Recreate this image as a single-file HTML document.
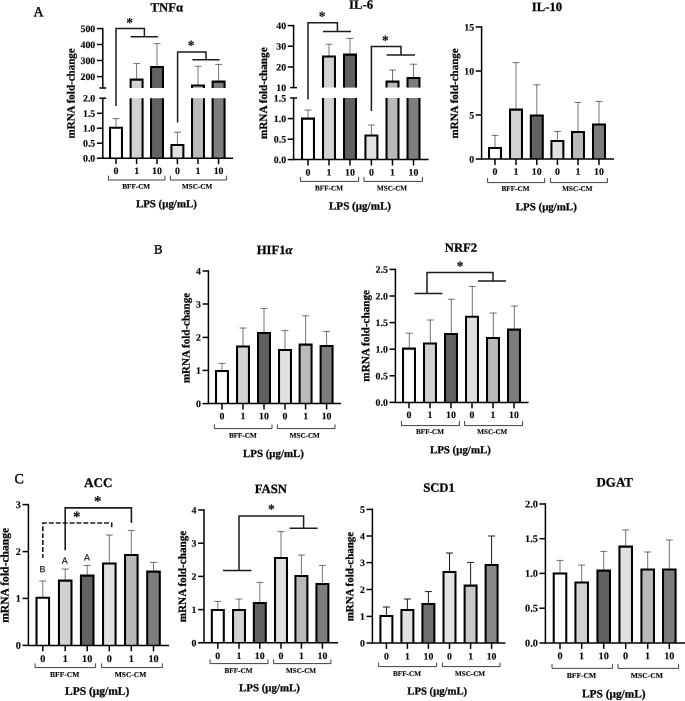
<!DOCTYPE html>
<html lang="en">
<head>
<meta charset="utf-8">
<title>mRNA fold-change charts</title>
<style>
html,body{margin:0;padding:0;background:#fff;}
body{width:685px;height:701px;overflow:hidden;}
svg text{white-space:pre;text-rendering:geometricPrecision;}
</style>
</head>
<body>
<svg width="685" height="701" viewBox="0 0 685 701" style="display:block">
<rect width="685" height="701" fill="#fff"/>
<g>
<line x1="116.00" y1="127.80" x2="116.00" y2="118.60" stroke="#000" stroke-width="0.55"/>
<line x1="112.50" y1="118.60" x2="119.50" y2="118.60" stroke="#000" stroke-width="0.55"/>
<line x1="136.60" y1="79.60" x2="136.60" y2="63.60" stroke="#000" stroke-width="0.55"/>
<line x1="133.10" y1="63.60" x2="140.10" y2="63.60" stroke="#000" stroke-width="0.55"/>
<line x1="157.00" y1="67.00" x2="157.00" y2="43.60" stroke="#000" stroke-width="0.55"/>
<line x1="153.50" y1="43.60" x2="160.50" y2="43.60" stroke="#000" stroke-width="0.55"/>
<line x1="177.40" y1="145.00" x2="177.40" y2="132.20" stroke="#000" stroke-width="0.55"/>
<line x1="173.90" y1="132.20" x2="180.90" y2="132.20" stroke="#000" stroke-width="0.55"/>
<line x1="198.00" y1="85.40" x2="198.00" y2="66.20" stroke="#000" stroke-width="0.55"/>
<line x1="194.50" y1="66.20" x2="201.50" y2="66.20" stroke="#000" stroke-width="0.55"/>
<line x1="218.60" y1="81.60" x2="218.60" y2="64.40" stroke="#000" stroke-width="0.55"/>
<line x1="215.10" y1="64.40" x2="222.10" y2="64.40" stroke="#000" stroke-width="0.55"/>
<rect x="110.03" y="127.83" width="11.95" height="30.37" fill="#ffffff"/>
<path d="M110.03 158.20V127.83H121.98V158.20" fill="none" stroke="#000" stroke-width="2.05" stroke-linejoin="miter"/>
<rect x="130.62" y="79.62" width="11.95" height="8.38" fill="#d2d2d2"/>
<rect x="130.62" y="98.20" width="11.95" height="60.00" fill="#d2d2d2"/>
<path d="M130.62 88.00V79.62H142.57V88.00" fill="none" stroke="#000" stroke-width="2.05"/>
<path d="M130.62 98.20V158.20M142.57 98.20V158.20" fill="none" stroke="#000" stroke-width="2.05"/>
<rect x="151.03" y="67.03" width="11.95" height="20.97" fill="#616161"/>
<rect x="151.03" y="98.20" width="11.95" height="60.00" fill="#616161"/>
<path d="M151.03 88.00V67.03H162.97V88.00" fill="none" stroke="#000" stroke-width="2.05"/>
<path d="M151.03 98.20V158.20M162.97 98.20V158.20" fill="none" stroke="#000" stroke-width="2.05"/>
<rect x="171.43" y="145.03" width="11.95" height="13.17" fill="#e0e0e0"/>
<path d="M171.43 158.20V145.03H183.38V158.20" fill="none" stroke="#000" stroke-width="2.05" stroke-linejoin="miter"/>
<rect x="192.03" y="85.43" width="11.95" height="2.57" fill="#b9b9b9"/>
<rect x="192.03" y="98.20" width="11.95" height="60.00" fill="#b9b9b9"/>
<path d="M192.03 88.00V85.43H203.97V88.00" fill="none" stroke="#000" stroke-width="2.05"/>
<path d="M192.03 98.20V158.20M203.97 98.20V158.20" fill="none" stroke="#000" stroke-width="2.05"/>
<rect x="212.62" y="81.62" width="11.95" height="6.38" fill="#7d7d7d"/>
<rect x="212.62" y="98.20" width="11.95" height="60.00" fill="#7d7d7d"/>
<path d="M212.62 88.00V81.62H224.57V88.00" fill="none" stroke="#000" stroke-width="2.05"/>
<path d="M212.62 98.20V158.20M224.57 98.20V158.20" fill="none" stroke="#000" stroke-width="2.05"/>
<line x1="102.05" y1="158.20" x2="233.00" y2="158.20" stroke="#000" stroke-width="1.5"/>
<line x1="102.80" y1="27.85" x2="102.80" y2="88.00" stroke="#000" stroke-width="1.5"/>
<line x1="102.80" y1="98.20" x2="102.80" y2="158.20" stroke="#000" stroke-width="1.5"/>
<line x1="99.40" y1="88.00" x2="106.20" y2="88.00" stroke="#000" stroke-width="1.5"/>
<line x1="99.40" y1="98.20" x2="106.20" y2="98.20" stroke="#000" stroke-width="1.5"/>
<line x1="96.90" y1="28.60" x2="102.80" y2="28.60" stroke="#000" stroke-width="1.5"/>
<text x="95.30" y="32.00" font-family='"Liberation Serif", serif' font-size="9.9" font-weight="bold" text-anchor="end" fill="#000" stroke="#000" stroke-width="0.12" transform="rotate(0.03 95.30 32.00)">500</text>
<line x1="96.90" y1="44.50" x2="102.80" y2="44.50" stroke="#000" stroke-width="1.5"/>
<text x="95.30" y="47.90" font-family='"Liberation Serif", serif' font-size="9.9" font-weight="bold" text-anchor="end" fill="#000" stroke="#000" stroke-width="0.12" transform="rotate(0.03 95.30 47.90)">400</text>
<line x1="96.90" y1="60.50" x2="102.80" y2="60.50" stroke="#000" stroke-width="1.5"/>
<text x="95.30" y="63.90" font-family='"Liberation Serif", serif' font-size="9.9" font-weight="bold" text-anchor="end" fill="#000" stroke="#000" stroke-width="0.12" transform="rotate(0.03 95.30 63.90)">300</text>
<line x1="96.90" y1="76.60" x2="102.80" y2="76.60" stroke="#000" stroke-width="1.5"/>
<text x="95.30" y="80.00" font-family='"Liberation Serif", serif' font-size="9.9" font-weight="bold" text-anchor="end" fill="#000" stroke="#000" stroke-width="0.12" transform="rotate(0.03 95.30 80.00)">200</text>
<text x="95.30" y="101.60" font-family='"Liberation Serif", serif' font-size="9.9" font-weight="bold" text-anchor="end" fill="#000" stroke="#000" stroke-width="0.12" transform="rotate(0.03 95.30 101.60)">2.0</text>
<line x1="96.90" y1="113.30" x2="102.80" y2="113.30" stroke="#000" stroke-width="1.5"/>
<text x="95.30" y="116.70" font-family='"Liberation Serif", serif' font-size="9.9" font-weight="bold" text-anchor="end" fill="#000" stroke="#000" stroke-width="0.12" transform="rotate(0.03 95.30 116.70)">1.5</text>
<line x1="96.90" y1="128.20" x2="102.80" y2="128.20" stroke="#000" stroke-width="1.5"/>
<text x="95.30" y="131.60" font-family='"Liberation Serif", serif' font-size="9.9" font-weight="bold" text-anchor="end" fill="#000" stroke="#000" stroke-width="0.12" transform="rotate(0.03 95.30 131.60)">1.0</text>
<line x1="96.90" y1="143.20" x2="102.80" y2="143.20" stroke="#000" stroke-width="1.5"/>
<text x="95.30" y="146.60" font-family='"Liberation Serif", serif' font-size="9.9" font-weight="bold" text-anchor="end" fill="#000" stroke="#000" stroke-width="0.12" transform="rotate(0.03 95.30 146.60)">0.5</text>
<line x1="96.90" y1="158.20" x2="102.80" y2="158.20" stroke="#000" stroke-width="1.5"/>
<text x="95.30" y="161.60" font-family='"Liberation Serif", serif' font-size="9.9" font-weight="bold" text-anchor="end" fill="#000" stroke="#000" stroke-width="0.12" transform="rotate(0.03 95.30 161.60)">0.0</text>
<line x1="116.00" y1="158.20" x2="116.00" y2="164.10" stroke="#000" stroke-width="1.5"/>
<text x="116.00" y="174.00" font-family='"Liberation Serif", serif' font-size="9.9" font-weight="bold" text-anchor="middle" fill="#000" stroke="#000" stroke-width="0.12" transform="rotate(0.03 116.00 174.00)">0</text>
<line x1="136.60" y1="158.20" x2="136.60" y2="164.10" stroke="#000" stroke-width="1.5"/>
<text x="136.60" y="174.00" font-family='"Liberation Serif", serif' font-size="9.9" font-weight="bold" text-anchor="middle" fill="#000" stroke="#000" stroke-width="0.12" transform="rotate(0.03 136.60 174.00)">1</text>
<line x1="157.00" y1="158.20" x2="157.00" y2="164.10" stroke="#000" stroke-width="1.5"/>
<text x="157.00" y="174.00" font-family='"Liberation Serif", serif' font-size="9.9" font-weight="bold" text-anchor="middle" fill="#000" stroke="#000" stroke-width="0.12" transform="rotate(0.03 157.00 174.00)">10</text>
<line x1="177.40" y1="158.20" x2="177.40" y2="164.10" stroke="#000" stroke-width="1.5"/>
<text x="177.40" y="174.00" font-family='"Liberation Serif", serif' font-size="9.9" font-weight="bold" text-anchor="middle" fill="#000" stroke="#000" stroke-width="0.12" transform="rotate(0.03 177.40 174.00)">0</text>
<line x1="198.00" y1="158.20" x2="198.00" y2="164.10" stroke="#000" stroke-width="1.5"/>
<text x="198.00" y="174.00" font-family='"Liberation Serif", serif' font-size="9.9" font-weight="bold" text-anchor="middle" fill="#000" stroke="#000" stroke-width="0.12" transform="rotate(0.03 198.00 174.00)">1</text>
<line x1="218.60" y1="158.20" x2="218.60" y2="164.10" stroke="#000" stroke-width="1.5"/>
<text x="218.60" y="174.00" font-family='"Liberation Serif", serif' font-size="9.9" font-weight="bold" text-anchor="middle" fill="#000" stroke="#000" stroke-width="0.12" transform="rotate(0.03 218.60 174.00)">10</text>
<path d="M108.40 175.60V180.00H165.00V175.60" fill="none" stroke="#000" stroke-width="0.75"/>
<text x="136.20" y="188.70" font-family='"Liberation Serif", serif' font-size="7.15" font-weight="bold" text-anchor="middle" fill="#000" stroke="#000" stroke-width="0.12" transform="rotate(0.03 136.20 188.70)">BFF-CM</text>
<path d="M170.40 175.60V180.00H226.60V175.60" fill="none" stroke="#000" stroke-width="0.75"/>
<text x="197.20" y="188.70" font-family='"Liberation Serif", serif' font-size="7.15" font-weight="bold" text-anchor="middle" fill="#000" stroke="#000" stroke-width="0.12" transform="rotate(0.03 197.20 188.70)">MSC-CM</text>
<text x="166.40" y="207.20" font-family='"Liberation Serif", serif' font-size="10.9" font-weight="bold" text-anchor="middle" fill="#000" stroke="#000" stroke-width="0.25" transform="rotate(0.03 166.40 207.20)">LPS (μg/mL)</text>
<text x="166.80" y="11.60" font-family='"Liberation Serif", serif' font-size="12.7" font-weight="bold" text-anchor="middle" fill="#000" stroke="#000" stroke-width="0.25" transform="rotate(0.03 166.80 11.60)">TNFα</text>
<text x="0.00" y="0.00" font-family='"Liberation Serif", serif' font-size="11.0" font-weight="bold" text-anchor="middle" fill="#000" stroke="#000" stroke-width="0.25" transform="translate(74.40 93.40) rotate(-89.97)">mRNA fold-change</text>
<path d="M116 106V28.6H144.4V36.8M130.6 36.8H158" fill="none" stroke="#1c1c1c" stroke-width="1.5"/>
<text x="129.60" y="26.95" font-family='"Liberation Serif", serif' font-size="13.5" font-weight="bold" text-anchor="middle" fill="#000" stroke="#000" stroke-width="0.1" transform="rotate(0.03 129.60 26.95)">*</text>
<path d="M177.6 122.6V52H206V59.8M192.4 59.8H219.6" fill="none" stroke="#1c1c1c" stroke-width="1.5"/>
<text x="191.00" y="49.85" font-family='"Liberation Serif", serif' font-size="13.5" font-weight="bold" text-anchor="middle" fill="#000" stroke="#000" stroke-width="0.1" transform="rotate(0.03 191.00 49.85)">*</text>
</g>
<g>
<line x1="308.00" y1="118.60" x2="308.00" y2="110.00" stroke="#000" stroke-width="0.55"/>
<line x1="304.50" y1="110.00" x2="311.50" y2="110.00" stroke="#000" stroke-width="0.55"/>
<line x1="329.00" y1="56.40" x2="329.00" y2="44.20" stroke="#000" stroke-width="0.55"/>
<line x1="325.50" y1="44.20" x2="332.50" y2="44.20" stroke="#000" stroke-width="0.55"/>
<line x1="350.00" y1="54.60" x2="350.00" y2="38.40" stroke="#000" stroke-width="0.55"/>
<line x1="346.50" y1="38.40" x2="353.50" y2="38.40" stroke="#000" stroke-width="0.55"/>
<line x1="371.40" y1="135.40" x2="371.40" y2="125.00" stroke="#000" stroke-width="0.55"/>
<line x1="367.90" y1="125.00" x2="374.90" y2="125.00" stroke="#000" stroke-width="0.55"/>
<line x1="392.50" y1="81.60" x2="392.50" y2="70.00" stroke="#000" stroke-width="0.55"/>
<line x1="389.00" y1="70.00" x2="396.00" y2="70.00" stroke="#000" stroke-width="0.55"/>
<line x1="413.50" y1="78.00" x2="413.50" y2="64.20" stroke="#000" stroke-width="0.55"/>
<line x1="410.00" y1="64.20" x2="417.00" y2="64.20" stroke="#000" stroke-width="0.55"/>
<rect x="302.02" y="118.62" width="11.95" height="40.97" fill="#ffffff"/>
<path d="M302.02 159.60V118.62H313.97V159.60" fill="none" stroke="#000" stroke-width="2.05" stroke-linejoin="miter"/>
<rect x="323.02" y="56.42" width="11.95" height="31.17" fill="#d2d2d2"/>
<rect x="323.02" y="98.00" width="11.95" height="61.60" fill="#d2d2d2"/>
<path d="M323.02 87.60V56.42H334.97V87.60" fill="none" stroke="#000" stroke-width="2.05"/>
<path d="M323.02 98.00V159.60M334.97 98.00V159.60" fill="none" stroke="#000" stroke-width="2.05"/>
<rect x="344.02" y="54.62" width="11.95" height="32.97" fill="#616161"/>
<rect x="344.02" y="98.00" width="11.95" height="61.60" fill="#616161"/>
<path d="M344.02 87.60V54.62H355.97V87.60" fill="none" stroke="#000" stroke-width="2.05"/>
<path d="M344.02 98.00V159.60M355.97 98.00V159.60" fill="none" stroke="#000" stroke-width="2.05"/>
<rect x="365.42" y="135.43" width="11.95" height="24.17" fill="#e0e0e0"/>
<path d="M365.42 159.60V135.43H377.37V159.60" fill="none" stroke="#000" stroke-width="2.05" stroke-linejoin="miter"/>
<rect x="386.52" y="81.62" width="11.95" height="5.97" fill="#b9b9b9"/>
<rect x="386.52" y="98.00" width="11.95" height="61.60" fill="#b9b9b9"/>
<path d="M386.52 87.60V81.62H398.47V87.60" fill="none" stroke="#000" stroke-width="2.05"/>
<path d="M386.52 98.00V159.60M398.47 98.00V159.60" fill="none" stroke="#000" stroke-width="2.05"/>
<rect x="407.52" y="78.03" width="11.95" height="9.57" fill="#7d7d7d"/>
<rect x="407.52" y="98.00" width="11.95" height="61.60" fill="#7d7d7d"/>
<path d="M407.52 87.60V78.03H419.47V87.60" fill="none" stroke="#000" stroke-width="2.05"/>
<path d="M407.52 98.00V159.60M419.47 98.00V159.60" fill="none" stroke="#000" stroke-width="2.05"/>
<line x1="292.85" y1="159.60" x2="428.60" y2="159.60" stroke="#000" stroke-width="1.5"/>
<line x1="293.60" y1="24.85" x2="293.60" y2="87.60" stroke="#000" stroke-width="1.5"/>
<line x1="293.60" y1="98.00" x2="293.60" y2="159.60" stroke="#000" stroke-width="1.5"/>
<line x1="290.20" y1="87.60" x2="297.00" y2="87.60" stroke="#000" stroke-width="1.5"/>
<line x1="290.20" y1="98.00" x2="297.00" y2="98.00" stroke="#000" stroke-width="1.5"/>
<line x1="287.70" y1="25.60" x2="293.60" y2="25.60" stroke="#000" stroke-width="1.5"/>
<text x="286.10" y="29.00" font-family='"Liberation Serif", serif' font-size="9.9" font-weight="bold" text-anchor="end" fill="#000" stroke="#000" stroke-width="0.12" transform="rotate(0.03 286.10 29.00)">40</text>
<line x1="287.70" y1="46.20" x2="293.60" y2="46.20" stroke="#000" stroke-width="1.5"/>
<text x="286.10" y="49.60" font-family='"Liberation Serif", serif' font-size="9.9" font-weight="bold" text-anchor="end" fill="#000" stroke="#000" stroke-width="0.12" transform="rotate(0.03 286.10 49.60)">30</text>
<line x1="287.70" y1="67.00" x2="293.60" y2="67.00" stroke="#000" stroke-width="1.5"/>
<text x="286.10" y="70.40" font-family='"Liberation Serif", serif' font-size="9.9" font-weight="bold" text-anchor="end" fill="#000" stroke="#000" stroke-width="0.12" transform="rotate(0.03 286.10 70.40)">20</text>
<text x="286.10" y="91.00" font-family='"Liberation Serif", serif' font-size="9.9" font-weight="bold" text-anchor="end" fill="#000" stroke="#000" stroke-width="0.12" transform="rotate(0.03 286.10 91.00)">10</text>
<text x="286.10" y="101.40" font-family='"Liberation Serif", serif' font-size="9.9" font-weight="bold" text-anchor="end" fill="#000" stroke="#000" stroke-width="0.12" transform="rotate(0.03 286.10 101.40)">1.5</text>
<line x1="287.70" y1="118.60" x2="293.60" y2="118.60" stroke="#000" stroke-width="1.5"/>
<text x="286.10" y="122.00" font-family='"Liberation Serif", serif' font-size="9.9" font-weight="bold" text-anchor="end" fill="#000" stroke="#000" stroke-width="0.12" transform="rotate(0.03 286.10 122.00)">1.0</text>
<line x1="287.70" y1="139.20" x2="293.60" y2="139.20" stroke="#000" stroke-width="1.5"/>
<text x="286.10" y="142.60" font-family='"Liberation Serif", serif' font-size="9.9" font-weight="bold" text-anchor="end" fill="#000" stroke="#000" stroke-width="0.12" transform="rotate(0.03 286.10 142.60)">0.5</text>
<line x1="287.70" y1="159.60" x2="293.60" y2="159.60" stroke="#000" stroke-width="1.5"/>
<text x="286.10" y="163.00" font-family='"Liberation Serif", serif' font-size="9.9" font-weight="bold" text-anchor="end" fill="#000" stroke="#000" stroke-width="0.12" transform="rotate(0.03 286.10 163.00)">0.0</text>
<line x1="308.00" y1="159.60" x2="308.00" y2="165.50" stroke="#000" stroke-width="1.5"/>
<text x="308.00" y="175.60" font-family='"Liberation Serif", serif' font-size="9.9" font-weight="bold" text-anchor="middle" fill="#000" stroke="#000" stroke-width="0.12" transform="rotate(0.03 308.00 175.60)">0</text>
<line x1="329.00" y1="159.60" x2="329.00" y2="165.50" stroke="#000" stroke-width="1.5"/>
<text x="329.00" y="175.60" font-family='"Liberation Serif", serif' font-size="9.9" font-weight="bold" text-anchor="middle" fill="#000" stroke="#000" stroke-width="0.12" transform="rotate(0.03 329.00 175.60)">1</text>
<line x1="350.00" y1="159.60" x2="350.00" y2="165.50" stroke="#000" stroke-width="1.5"/>
<text x="350.00" y="175.60" font-family='"Liberation Serif", serif' font-size="9.9" font-weight="bold" text-anchor="middle" fill="#000" stroke="#000" stroke-width="0.12" transform="rotate(0.03 350.00 175.60)">10</text>
<line x1="371.40" y1="159.60" x2="371.40" y2="165.50" stroke="#000" stroke-width="1.5"/>
<text x="371.40" y="175.60" font-family='"Liberation Serif", serif' font-size="9.9" font-weight="bold" text-anchor="middle" fill="#000" stroke="#000" stroke-width="0.12" transform="rotate(0.03 371.40 175.60)">0</text>
<line x1="392.50" y1="159.60" x2="392.50" y2="165.50" stroke="#000" stroke-width="1.5"/>
<text x="392.50" y="175.60" font-family='"Liberation Serif", serif' font-size="9.9" font-weight="bold" text-anchor="middle" fill="#000" stroke="#000" stroke-width="0.12" transform="rotate(0.03 392.50 175.60)">1</text>
<line x1="413.50" y1="159.60" x2="413.50" y2="165.50" stroke="#000" stroke-width="1.5"/>
<text x="413.50" y="175.60" font-family='"Liberation Serif", serif' font-size="9.9" font-weight="bold" text-anchor="middle" fill="#000" stroke="#000" stroke-width="0.12" transform="rotate(0.03 413.50 175.60)">10</text>
<path d="M300.40 177.00V181.40H358.60V177.00" fill="none" stroke="#000" stroke-width="0.75"/>
<text x="329.00" y="190.40" font-family='"Liberation Serif", serif' font-size="7.15" font-weight="bold" text-anchor="middle" fill="#000" stroke="#000" stroke-width="0.12" transform="rotate(0.03 329.00 190.40)">BFF-CM</text>
<path d="M364.00 177.00V181.40H422.40V177.00" fill="none" stroke="#000" stroke-width="0.75"/>
<text x="392.00" y="190.40" font-family='"Liberation Serif", serif' font-size="7.15" font-weight="bold" text-anchor="middle" fill="#000" stroke="#000" stroke-width="0.12" transform="rotate(0.03 392.00 190.40)">MSC-CM</text>
<text x="360.00" y="209.60" font-family='"Liberation Serif", serif' font-size="11.1" font-weight="bold" text-anchor="middle" fill="#000" stroke="#000" stroke-width="0.25" transform="rotate(0.03 360.00 209.60)">LPS (μg/mL)</text>
<text x="361.00" y="8.70" font-family='"Liberation Serif", serif' font-size="12.7" font-weight="bold" text-anchor="middle" fill="#000" stroke="#000" stroke-width="0.25" transform="rotate(0.03 361.00 8.70)">IL-6</text>
<text x="0.00" y="0.00" font-family='"Liberation Serif", serif' font-size="11.2" font-weight="bold" text-anchor="middle" fill="#000" stroke="#000" stroke-width="0.25" transform="translate(267.10 93.20) rotate(-89.97)">mRNA fold-change</text>
<path d="M308 99.6V22.8H337.4V31.4M323 31.4H351" fill="none" stroke="#1c1c1c" stroke-width="1.5"/>
<text x="322.00" y="20.85" font-family='"Liberation Serif", serif' font-size="13.5" font-weight="bold" text-anchor="middle" fill="#000" stroke="#000" stroke-width="0.1" transform="rotate(0.03 322.00 20.85)">*</text>
<path d="M371.4 111V46.6H401V55M386.6 55H415" fill="none" stroke="#1c1c1c" stroke-width="1.5"/>
<text x="385.40" y="44.85" font-family='"Liberation Serif", serif' font-size="13.5" font-weight="bold" text-anchor="middle" fill="#000" stroke="#000" stroke-width="0.1" transform="rotate(0.03 385.40 44.85)">*</text>
</g>
<g>
<line x1="495.00" y1="148.00" x2="495.00" y2="135.40" stroke="#000" stroke-width="0.55"/>
<line x1="491.50" y1="135.40" x2="498.50" y2="135.40" stroke="#000" stroke-width="0.55"/>
<line x1="516.00" y1="109.60" x2="516.00" y2="62.60" stroke="#000" stroke-width="0.55"/>
<line x1="512.50" y1="62.60" x2="519.50" y2="62.60" stroke="#000" stroke-width="0.55"/>
<line x1="536.80" y1="115.40" x2="536.80" y2="84.80" stroke="#000" stroke-width="0.55"/>
<line x1="533.30" y1="84.80" x2="540.30" y2="84.80" stroke="#000" stroke-width="0.55"/>
<line x1="557.40" y1="141.00" x2="557.40" y2="131.40" stroke="#000" stroke-width="0.55"/>
<line x1="553.90" y1="131.40" x2="560.90" y2="131.40" stroke="#000" stroke-width="0.55"/>
<line x1="578.00" y1="132.00" x2="578.00" y2="102.40" stroke="#000" stroke-width="0.55"/>
<line x1="574.50" y1="102.40" x2="581.50" y2="102.40" stroke="#000" stroke-width="0.55"/>
<line x1="599.00" y1="124.40" x2="599.00" y2="101.40" stroke="#000" stroke-width="0.55"/>
<line x1="595.50" y1="101.40" x2="602.50" y2="101.40" stroke="#000" stroke-width="0.55"/>
<rect x="489.02" y="148.03" width="11.95" height="10.97" fill="#ffffff"/>
<path d="M489.02 159.00V148.03H500.97V159.00" fill="none" stroke="#000" stroke-width="2.05" stroke-linejoin="miter"/>
<rect x="510.02" y="109.62" width="11.95" height="49.38" fill="#d2d2d2"/>
<path d="M510.02 159.00V109.62H521.98V159.00" fill="none" stroke="#000" stroke-width="2.05" stroke-linejoin="miter"/>
<rect x="530.82" y="115.43" width="11.95" height="43.57" fill="#616161"/>
<path d="M530.82 159.00V115.43H542.77V159.00" fill="none" stroke="#000" stroke-width="2.05" stroke-linejoin="miter"/>
<rect x="551.42" y="141.03" width="11.95" height="17.97" fill="#e0e0e0"/>
<path d="M551.42 159.00V141.03H563.38V159.00" fill="none" stroke="#000" stroke-width="2.05" stroke-linejoin="miter"/>
<rect x="572.02" y="132.03" width="11.95" height="26.97" fill="#b9b9b9"/>
<path d="M572.02 159.00V132.03H583.98V159.00" fill="none" stroke="#000" stroke-width="2.05" stroke-linejoin="miter"/>
<rect x="593.02" y="124.43" width="11.95" height="34.57" fill="#7d7d7d"/>
<path d="M593.02 159.00V124.43H604.98V159.00" fill="none" stroke="#000" stroke-width="2.05" stroke-linejoin="miter"/>
<line x1="480.85" y1="159.00" x2="614.00" y2="159.00" stroke="#000" stroke-width="1.5"/>
<line x1="481.60" y1="26.25" x2="481.60" y2="159.00" stroke="#000" stroke-width="1.5"/>
<line x1="475.70" y1="27.00" x2="481.60" y2="27.00" stroke="#000" stroke-width="1.5"/>
<text x="474.10" y="30.40" font-family='"Liberation Serif", serif' font-size="9.9" font-weight="bold" text-anchor="end" fill="#000" stroke="#000" stroke-width="0.12" transform="rotate(0.03 474.10 30.40)">15</text>
<line x1="475.70" y1="71.00" x2="481.60" y2="71.00" stroke="#000" stroke-width="1.5"/>
<text x="474.10" y="74.40" font-family='"Liberation Serif", serif' font-size="9.9" font-weight="bold" text-anchor="end" fill="#000" stroke="#000" stroke-width="0.12" transform="rotate(0.03 474.10 74.40)">10</text>
<line x1="475.70" y1="115.00" x2="481.60" y2="115.00" stroke="#000" stroke-width="1.5"/>
<text x="474.10" y="118.40" font-family='"Liberation Serif", serif' font-size="9.9" font-weight="bold" text-anchor="end" fill="#000" stroke="#000" stroke-width="0.12" transform="rotate(0.03 474.10 118.40)">5</text>
<line x1="475.70" y1="159.00" x2="481.60" y2="159.00" stroke="#000" stroke-width="1.5"/>
<text x="474.10" y="162.40" font-family='"Liberation Serif", serif' font-size="9.9" font-weight="bold" text-anchor="end" fill="#000" stroke="#000" stroke-width="0.12" transform="rotate(0.03 474.10 162.40)">0</text>
<line x1="495.00" y1="159.00" x2="495.00" y2="164.90" stroke="#000" stroke-width="1.5"/>
<text x="495.00" y="174.80" font-family='"Liberation Serif", serif' font-size="9.9" font-weight="bold" text-anchor="middle" fill="#000" stroke="#000" stroke-width="0.12" transform="rotate(0.03 495.00 174.80)">0</text>
<line x1="516.00" y1="159.00" x2="516.00" y2="164.90" stroke="#000" stroke-width="1.5"/>
<text x="516.00" y="174.80" font-family='"Liberation Serif", serif' font-size="9.9" font-weight="bold" text-anchor="middle" fill="#000" stroke="#000" stroke-width="0.12" transform="rotate(0.03 516.00 174.80)">1</text>
<line x1="536.80" y1="159.00" x2="536.80" y2="164.90" stroke="#000" stroke-width="1.5"/>
<text x="536.80" y="174.80" font-family='"Liberation Serif", serif' font-size="9.9" font-weight="bold" text-anchor="middle" fill="#000" stroke="#000" stroke-width="0.12" transform="rotate(0.03 536.80 174.80)">10</text>
<line x1="557.40" y1="159.00" x2="557.40" y2="164.90" stroke="#000" stroke-width="1.5"/>
<text x="557.40" y="174.80" font-family='"Liberation Serif", serif' font-size="9.9" font-weight="bold" text-anchor="middle" fill="#000" stroke="#000" stroke-width="0.12" transform="rotate(0.03 557.40 174.80)">0</text>
<line x1="578.00" y1="159.00" x2="578.00" y2="164.90" stroke="#000" stroke-width="1.5"/>
<text x="578.00" y="174.80" font-family='"Liberation Serif", serif' font-size="9.9" font-weight="bold" text-anchor="middle" fill="#000" stroke="#000" stroke-width="0.12" transform="rotate(0.03 578.00 174.80)">1</text>
<line x1="599.00" y1="159.00" x2="599.00" y2="164.90" stroke="#000" stroke-width="1.5"/>
<text x="599.00" y="174.80" font-family='"Liberation Serif", serif' font-size="9.9" font-weight="bold" text-anchor="middle" fill="#000" stroke="#000" stroke-width="0.12" transform="rotate(0.03 599.00 174.80)">10</text>
<path d="M487.60 178.00V182.60H544.60V178.00" fill="none" stroke="#000" stroke-width="0.75"/>
<text x="515.50" y="191.00" font-family='"Liberation Serif", serif' font-size="7.15" font-weight="bold" text-anchor="middle" fill="#000" stroke="#000" stroke-width="0.12" transform="rotate(0.03 515.50 191.00)">BFF-CM</text>
<path d="M550.40 178.00V182.60H607.40V178.00" fill="none" stroke="#000" stroke-width="0.75"/>
<text x="577.40" y="191.00" font-family='"Liberation Serif", serif' font-size="7.15" font-weight="bold" text-anchor="middle" fill="#000" stroke="#000" stroke-width="0.12" transform="rotate(0.03 577.40 191.00)">MSC-CM</text>
<text x="546.30" y="210.20" font-family='"Liberation Serif", serif' font-size="10.9" font-weight="bold" text-anchor="middle" fill="#000" stroke="#000" stroke-width="0.25" transform="rotate(0.03 546.30 210.20)">LPS (μg/mL)</text>
<text x="547.00" y="11.00" font-family='"Liberation Serif", serif' font-size="12.7" font-weight="bold" text-anchor="middle" fill="#000" stroke="#000" stroke-width="0.25" transform="rotate(0.03 547.00 11.00)">IL-10</text>
<text x="0.00" y="0.00" font-family='"Liberation Serif", serif' font-size="11.0" font-weight="bold" text-anchor="middle" fill="#000" stroke="#000" stroke-width="0.25" transform="translate(458.10 93.40) rotate(-89.97)">mRNA fold-change</text>
</g>
<g>
<line x1="222.00" y1="371.00" x2="222.00" y2="363.40" stroke="#000" stroke-width="0.55"/>
<line x1="218.50" y1="363.40" x2="225.50" y2="363.40" stroke="#000" stroke-width="0.55"/>
<line x1="243.00" y1="346.40" x2="243.00" y2="328.00" stroke="#000" stroke-width="0.55"/>
<line x1="239.50" y1="328.00" x2="246.50" y2="328.00" stroke="#000" stroke-width="0.55"/>
<line x1="264.00" y1="333.00" x2="264.00" y2="308.40" stroke="#000" stroke-width="0.55"/>
<line x1="260.50" y1="308.40" x2="267.50" y2="308.40" stroke="#000" stroke-width="0.55"/>
<line x1="285.00" y1="350.00" x2="285.00" y2="330.60" stroke="#000" stroke-width="0.55"/>
<line x1="281.50" y1="330.60" x2="288.50" y2="330.60" stroke="#000" stroke-width="0.55"/>
<line x1="305.60" y1="344.60" x2="305.60" y2="315.80" stroke="#000" stroke-width="0.55"/>
<line x1="302.10" y1="315.80" x2="309.10" y2="315.80" stroke="#000" stroke-width="0.55"/>
<line x1="326.60" y1="346.00" x2="326.60" y2="331.40" stroke="#000" stroke-width="0.55"/>
<line x1="323.10" y1="331.40" x2="330.10" y2="331.40" stroke="#000" stroke-width="0.55"/>
<rect x="216.03" y="371.02" width="11.95" height="32.58" fill="#ffffff"/>
<path d="M216.03 403.60V371.02H227.97V403.60" fill="none" stroke="#000" stroke-width="2.05" stroke-linejoin="miter"/>
<rect x="237.03" y="346.42" width="11.95" height="57.18" fill="#d2d2d2"/>
<path d="M237.03 403.60V346.42H248.97V403.60" fill="none" stroke="#000" stroke-width="2.05" stroke-linejoin="miter"/>
<rect x="258.02" y="333.02" width="11.95" height="70.58" fill="#616161"/>
<path d="M258.02 403.60V333.02H269.97V403.60" fill="none" stroke="#000" stroke-width="2.05" stroke-linejoin="miter"/>
<rect x="279.02" y="350.02" width="11.95" height="53.58" fill="#e0e0e0"/>
<path d="M279.02 403.60V350.02H290.97V403.60" fill="none" stroke="#000" stroke-width="2.05" stroke-linejoin="miter"/>
<rect x="299.62" y="344.62" width="11.95" height="58.98" fill="#b9b9b9"/>
<path d="M299.62 403.60V344.62H311.57V403.60" fill="none" stroke="#000" stroke-width="2.05" stroke-linejoin="miter"/>
<rect x="320.62" y="346.02" width="11.95" height="57.58" fill="#7d7d7d"/>
<path d="M320.62 403.60V346.02H332.57V403.60" fill="none" stroke="#000" stroke-width="2.05" stroke-linejoin="miter"/>
<line x1="207.65" y1="403.60" x2="341.00" y2="403.60" stroke="#000" stroke-width="1.5"/>
<line x1="208.40" y1="270.25" x2="208.40" y2="403.60" stroke="#000" stroke-width="1.5"/>
<line x1="202.50" y1="271.00" x2="208.40" y2="271.00" stroke="#000" stroke-width="1.5"/>
<text x="200.90" y="274.40" font-family='"Liberation Serif", serif' font-size="9.9" font-weight="bold" text-anchor="end" fill="#000" stroke="#000" stroke-width="0.12" transform="rotate(0.03 200.90 274.40)">4</text>
<line x1="202.50" y1="304.00" x2="208.40" y2="304.00" stroke="#000" stroke-width="1.5"/>
<text x="200.90" y="307.40" font-family='"Liberation Serif", serif' font-size="9.9" font-weight="bold" text-anchor="end" fill="#000" stroke="#000" stroke-width="0.12" transform="rotate(0.03 200.90 307.40)">3</text>
<line x1="202.50" y1="337.40" x2="208.40" y2="337.40" stroke="#000" stroke-width="1.5"/>
<text x="200.90" y="340.80" font-family='"Liberation Serif", serif' font-size="9.9" font-weight="bold" text-anchor="end" fill="#000" stroke="#000" stroke-width="0.12" transform="rotate(0.03 200.90 340.80)">2</text>
<line x1="202.50" y1="370.40" x2="208.40" y2="370.40" stroke="#000" stroke-width="1.5"/>
<text x="200.90" y="373.80" font-family='"Liberation Serif", serif' font-size="9.9" font-weight="bold" text-anchor="end" fill="#000" stroke="#000" stroke-width="0.12" transform="rotate(0.03 200.90 373.80)">1</text>
<line x1="202.50" y1="403.60" x2="208.40" y2="403.60" stroke="#000" stroke-width="1.5"/>
<text x="200.90" y="407.00" font-family='"Liberation Serif", serif' font-size="9.9" font-weight="bold" text-anchor="end" fill="#000" stroke="#000" stroke-width="0.12" transform="rotate(0.03 200.90 407.00)">0</text>
<line x1="222.00" y1="403.60" x2="222.00" y2="409.50" stroke="#000" stroke-width="1.5"/>
<text x="222.00" y="419.30" font-family='"Liberation Serif", serif' font-size="9.9" font-weight="bold" text-anchor="middle" fill="#000" stroke="#000" stroke-width="0.12" transform="rotate(0.03 222.00 419.30)">0</text>
<line x1="243.00" y1="403.60" x2="243.00" y2="409.50" stroke="#000" stroke-width="1.5"/>
<text x="243.00" y="419.30" font-family='"Liberation Serif", serif' font-size="9.9" font-weight="bold" text-anchor="middle" fill="#000" stroke="#000" stroke-width="0.12" transform="rotate(0.03 243.00 419.30)">1</text>
<line x1="264.00" y1="403.60" x2="264.00" y2="409.50" stroke="#000" stroke-width="1.5"/>
<text x="264.00" y="419.30" font-family='"Liberation Serif", serif' font-size="9.9" font-weight="bold" text-anchor="middle" fill="#000" stroke="#000" stroke-width="0.12" transform="rotate(0.03 264.00 419.30)">10</text>
<line x1="285.00" y1="403.60" x2="285.00" y2="409.50" stroke="#000" stroke-width="1.5"/>
<text x="285.00" y="419.30" font-family='"Liberation Serif", serif' font-size="9.9" font-weight="bold" text-anchor="middle" fill="#000" stroke="#000" stroke-width="0.12" transform="rotate(0.03 285.00 419.30)">0</text>
<line x1="305.60" y1="403.60" x2="305.60" y2="409.50" stroke="#000" stroke-width="1.5"/>
<text x="305.60" y="419.30" font-family='"Liberation Serif", serif' font-size="9.9" font-weight="bold" text-anchor="middle" fill="#000" stroke="#000" stroke-width="0.12" transform="rotate(0.03 305.60 419.30)">1</text>
<line x1="326.60" y1="403.60" x2="326.60" y2="409.50" stroke="#000" stroke-width="1.5"/>
<text x="326.60" y="419.30" font-family='"Liberation Serif", serif' font-size="9.9" font-weight="bold" text-anchor="middle" fill="#000" stroke="#000" stroke-width="0.12" transform="rotate(0.03 326.60 419.30)">10</text>
<path d="M214.40 424.40V428.60H272.00V424.40" fill="none" stroke="#000" stroke-width="0.75"/>
<text x="242.80" y="437.70" font-family='"Liberation Serif", serif' font-size="7.15" font-weight="bold" text-anchor="middle" fill="#000" stroke="#000" stroke-width="0.12" transform="rotate(0.03 242.80 437.70)">BFF-CM</text>
<path d="M277.40 424.40V428.60H335.00V424.40" fill="none" stroke="#000" stroke-width="0.75"/>
<text x="304.80" y="437.70" font-family='"Liberation Serif", serif' font-size="7.15" font-weight="bold" text-anchor="middle" fill="#000" stroke="#000" stroke-width="0.12" transform="rotate(0.03 304.80 437.70)">MSC-CM</text>
<text x="273.50" y="457.00" font-family='"Liberation Serif", serif' font-size="10.9" font-weight="bold" text-anchor="middle" fill="#000" stroke="#000" stroke-width="0.25" transform="rotate(0.03 273.50 457.00)">LPS (μg/mL)</text>
<text x="274.60" y="253.90" font-family='"Liberation Serif", serif' font-size="12.7" font-weight="bold" text-anchor="middle" fill="#000" stroke="#000" stroke-width="0.25" transform="rotate(0.03 274.60 253.90)">HIF1<tspan font-style="italic">α</tspan></text>
<text x="0.00" y="0.00" font-family='"Liberation Serif", serif' font-size="11.0" font-weight="bold" text-anchor="middle" fill="#000" stroke="#000" stroke-width="0.25" transform="translate(189.60 338.00) rotate(-89.97)">mRNA fold-change</text>
</g>
<g>
<line x1="409.30" y1="348.60" x2="409.30" y2="333.20" stroke="#000" stroke-width="0.55"/>
<line x1="405.80" y1="333.20" x2="412.80" y2="333.20" stroke="#000" stroke-width="0.55"/>
<line x1="430.30" y1="343.40" x2="430.30" y2="320.00" stroke="#000" stroke-width="0.55"/>
<line x1="426.80" y1="320.00" x2="433.80" y2="320.00" stroke="#000" stroke-width="0.55"/>
<line x1="451.30" y1="334.00" x2="451.30" y2="299.20" stroke="#000" stroke-width="0.55"/>
<line x1="447.80" y1="299.20" x2="454.80" y2="299.20" stroke="#000" stroke-width="0.55"/>
<line x1="472.30" y1="316.80" x2="472.30" y2="286.40" stroke="#000" stroke-width="0.55"/>
<line x1="468.80" y1="286.40" x2="475.80" y2="286.40" stroke="#000" stroke-width="0.55"/>
<line x1="493.30" y1="338.00" x2="493.30" y2="313.00" stroke="#000" stroke-width="0.55"/>
<line x1="489.80" y1="313.00" x2="496.80" y2="313.00" stroke="#000" stroke-width="0.55"/>
<line x1="514.30" y1="329.60" x2="514.30" y2="306.00" stroke="#000" stroke-width="0.55"/>
<line x1="510.80" y1="306.00" x2="517.80" y2="306.00" stroke="#000" stroke-width="0.55"/>
<rect x="403.02" y="348.62" width="11.95" height="53.77" fill="#ffffff"/>
<path d="M403.02 402.40V348.62H414.97V402.40" fill="none" stroke="#000" stroke-width="2.05" stroke-linejoin="miter"/>
<rect x="424.02" y="343.42" width="11.95" height="58.98" fill="#d2d2d2"/>
<path d="M424.02 402.40V343.42H435.97V402.40" fill="none" stroke="#000" stroke-width="2.05" stroke-linejoin="miter"/>
<rect x="445.02" y="334.02" width="11.95" height="68.38" fill="#616161"/>
<path d="M445.02 402.40V334.02H456.97V402.40" fill="none" stroke="#000" stroke-width="2.05" stroke-linejoin="miter"/>
<rect x="466.02" y="316.82" width="11.95" height="85.57" fill="#e0e0e0"/>
<path d="M466.02 402.40V316.82H477.97V402.40" fill="none" stroke="#000" stroke-width="2.05" stroke-linejoin="miter"/>
<rect x="487.02" y="338.02" width="11.95" height="64.38" fill="#b9b9b9"/>
<path d="M487.02 402.40V338.02H498.97V402.40" fill="none" stroke="#000" stroke-width="2.05" stroke-linejoin="miter"/>
<rect x="508.02" y="329.62" width="11.95" height="72.77" fill="#7d7d7d"/>
<path d="M508.02 402.40V329.62H519.98V402.40" fill="none" stroke="#000" stroke-width="2.05" stroke-linejoin="miter"/>
<line x1="394.65" y1="402.40" x2="528.60" y2="402.40" stroke="#000" stroke-width="1.5"/>
<line x1="395.40" y1="268.65" x2="395.40" y2="402.40" stroke="#000" stroke-width="1.5"/>
<line x1="389.50" y1="269.40" x2="395.40" y2="269.40" stroke="#000" stroke-width="1.5"/>
<text x="387.90" y="272.80" font-family='"Liberation Serif", serif' font-size="9.9" font-weight="bold" text-anchor="end" fill="#000" stroke="#000" stroke-width="0.12" transform="rotate(0.03 387.90 272.80)">2.5</text>
<line x1="389.50" y1="296.00" x2="395.40" y2="296.00" stroke="#000" stroke-width="1.5"/>
<text x="387.90" y="299.40" font-family='"Liberation Serif", serif' font-size="9.9" font-weight="bold" text-anchor="end" fill="#000" stroke="#000" stroke-width="0.12" transform="rotate(0.03 387.90 299.40)">2.0</text>
<line x1="389.50" y1="322.60" x2="395.40" y2="322.60" stroke="#000" stroke-width="1.5"/>
<text x="387.90" y="326.00" font-family='"Liberation Serif", serif' font-size="9.9" font-weight="bold" text-anchor="end" fill="#000" stroke="#000" stroke-width="0.12" transform="rotate(0.03 387.90 326.00)">1.5</text>
<line x1="389.50" y1="349.20" x2="395.40" y2="349.20" stroke="#000" stroke-width="1.5"/>
<text x="387.90" y="352.60" font-family='"Liberation Serif", serif' font-size="9.9" font-weight="bold" text-anchor="end" fill="#000" stroke="#000" stroke-width="0.12" transform="rotate(0.03 387.90 352.60)">1.0</text>
<line x1="389.50" y1="375.80" x2="395.40" y2="375.80" stroke="#000" stroke-width="1.5"/>
<text x="387.90" y="379.20" font-family='"Liberation Serif", serif' font-size="9.9" font-weight="bold" text-anchor="end" fill="#000" stroke="#000" stroke-width="0.12" transform="rotate(0.03 387.90 379.20)">0.5</text>
<line x1="389.50" y1="402.40" x2="395.40" y2="402.40" stroke="#000" stroke-width="1.5"/>
<text x="387.90" y="405.80" font-family='"Liberation Serif", serif' font-size="9.9" font-weight="bold" text-anchor="end" fill="#000" stroke="#000" stroke-width="0.12" transform="rotate(0.03 387.90 405.80)">0.0</text>
<line x1="409.00" y1="402.40" x2="409.00" y2="408.30" stroke="#000" stroke-width="1.5"/>
<text x="409.00" y="418.10" font-family='"Liberation Serif", serif' font-size="9.9" font-weight="bold" text-anchor="middle" fill="#000" stroke="#000" stroke-width="0.12" transform="rotate(0.03 409.00 418.10)">0</text>
<line x1="430.00" y1="402.40" x2="430.00" y2="408.30" stroke="#000" stroke-width="1.5"/>
<text x="430.00" y="418.10" font-family='"Liberation Serif", serif' font-size="9.9" font-weight="bold" text-anchor="middle" fill="#000" stroke="#000" stroke-width="0.12" transform="rotate(0.03 430.00 418.10)">1</text>
<line x1="451.00" y1="402.40" x2="451.00" y2="408.30" stroke="#000" stroke-width="1.5"/>
<text x="451.00" y="418.10" font-family='"Liberation Serif", serif' font-size="9.9" font-weight="bold" text-anchor="middle" fill="#000" stroke="#000" stroke-width="0.12" transform="rotate(0.03 451.00 418.10)">10</text>
<line x1="472.00" y1="402.40" x2="472.00" y2="408.30" stroke="#000" stroke-width="1.5"/>
<text x="472.00" y="418.10" font-family='"Liberation Serif", serif' font-size="9.9" font-weight="bold" text-anchor="middle" fill="#000" stroke="#000" stroke-width="0.12" transform="rotate(0.03 472.00 418.10)">0</text>
<line x1="493.00" y1="402.40" x2="493.00" y2="408.30" stroke="#000" stroke-width="1.5"/>
<text x="493.00" y="418.10" font-family='"Liberation Serif", serif' font-size="9.9" font-weight="bold" text-anchor="middle" fill="#000" stroke="#000" stroke-width="0.12" transform="rotate(0.03 493.00 418.10)">1</text>
<line x1="514.00" y1="402.40" x2="514.00" y2="408.30" stroke="#000" stroke-width="1.5"/>
<text x="514.00" y="418.10" font-family='"Liberation Serif", serif' font-size="9.9" font-weight="bold" text-anchor="middle" fill="#000" stroke="#000" stroke-width="0.12" transform="rotate(0.03 514.00 418.10)">10</text>
<path d="M401.40 421.00V425.60H459.40V421.00" fill="none" stroke="#000" stroke-width="0.75"/>
<text x="430.00" y="433.90" font-family='"Liberation Serif", serif' font-size="7.15" font-weight="bold" text-anchor="middle" fill="#000" stroke="#000" stroke-width="0.12" transform="rotate(0.03 430.00 433.90)">BFF-CM</text>
<path d="M464.60 421.00V425.60H522.60V421.00" fill="none" stroke="#000" stroke-width="0.75"/>
<text x="492.30" y="433.90" font-family='"Liberation Serif", serif' font-size="7.15" font-weight="bold" text-anchor="middle" fill="#000" stroke="#000" stroke-width="0.12" transform="rotate(0.03 492.30 433.90)">MSC-CM</text>
<text x="460.40" y="453.20" font-family='"Liberation Serif", serif' font-size="10.9" font-weight="bold" text-anchor="middle" fill="#000" stroke="#000" stroke-width="0.25" transform="rotate(0.03 460.40 453.20)">LPS (μg/mL)</text>
<text x="461.00" y="251.80" font-family='"Liberation Serif", serif' font-size="12.7" font-weight="bold" text-anchor="middle" fill="#000" stroke="#000" stroke-width="0.25" transform="rotate(0.03 461.00 251.80)">NRF2</text>
<text x="0.00" y="0.00" font-family='"Liberation Serif", serif' font-size="11.2" font-weight="bold" text-anchor="middle" fill="#000" stroke="#000" stroke-width="0.25" transform="translate(369.30 335.80) rotate(-89.97)">mRNA fold-change</text>
<path d="M427 293.4V272.4H493V281M414.4 293.4H442.4M478 281H506" fill="none" stroke="#1c1c1c" stroke-width="1.5"/>
<text x="460.00" y="270.45" font-family='"Liberation Serif", serif' font-size="13.5" font-weight="bold" text-anchor="middle" fill="#000" stroke="#000" stroke-width="0.1" transform="rotate(0.03 460.00 270.45)">*</text>
</g>
<g>
<line x1="42.80" y1="597.80" x2="42.80" y2="581.00" stroke="#000" stroke-width="0.55"/>
<line x1="39.30" y1="581.00" x2="46.30" y2="581.00" stroke="#000" stroke-width="0.55"/>
<line x1="65.20" y1="580.60" x2="65.20" y2="569.00" stroke="#000" stroke-width="0.55"/>
<line x1="61.70" y1="569.00" x2="68.70" y2="569.00" stroke="#000" stroke-width="0.55"/>
<line x1="87.20" y1="575.60" x2="87.20" y2="565.40" stroke="#000" stroke-width="0.55"/>
<line x1="83.70" y1="565.40" x2="90.70" y2="565.40" stroke="#000" stroke-width="0.55"/>
<line x1="109.30" y1="563.40" x2="109.30" y2="535.00" stroke="#000" stroke-width="0.55"/>
<line x1="105.80" y1="535.00" x2="112.80" y2="535.00" stroke="#000" stroke-width="0.55"/>
<line x1="131.30" y1="555.00" x2="131.30" y2="530.40" stroke="#000" stroke-width="0.55"/>
<line x1="127.80" y1="530.40" x2="134.80" y2="530.40" stroke="#000" stroke-width="0.55"/>
<line x1="153.50" y1="571.60" x2="153.50" y2="562.40" stroke="#000" stroke-width="0.55"/>
<line x1="150.00" y1="562.40" x2="157.00" y2="562.40" stroke="#000" stroke-width="0.55"/>
<rect x="36.52" y="597.82" width="12.55" height="47.58" fill="#ffffff"/>
<path d="M36.52 645.40V597.82H49.08V645.40" fill="none" stroke="#000" stroke-width="2.05" stroke-linejoin="miter"/>
<rect x="58.93" y="580.62" width="12.55" height="64.77" fill="#d2d2d2"/>
<path d="M58.93 645.40V580.62H71.48V645.40" fill="none" stroke="#000" stroke-width="2.05" stroke-linejoin="miter"/>
<rect x="80.93" y="575.62" width="12.55" height="69.77" fill="#616161"/>
<path d="M80.93 645.40V575.62H93.48V645.40" fill="none" stroke="#000" stroke-width="2.05" stroke-linejoin="miter"/>
<rect x="103.03" y="563.42" width="12.55" height="81.98" fill="#e0e0e0"/>
<path d="M103.03 645.40V563.42H115.58V645.40" fill="none" stroke="#000" stroke-width="2.05" stroke-linejoin="miter"/>
<rect x="125.03" y="555.02" width="12.55" height="90.38" fill="#b9b9b9"/>
<path d="M125.03 645.40V555.02H137.58V645.40" fill="none" stroke="#000" stroke-width="2.05" stroke-linejoin="miter"/>
<rect x="147.22" y="571.62" width="12.55" height="73.77" fill="#7d7d7d"/>
<path d="M147.22 645.40V571.62H159.78V645.40" fill="none" stroke="#000" stroke-width="2.05" stroke-linejoin="miter"/>
<line x1="27.65" y1="645.40" x2="169.00" y2="645.40" stroke="#000" stroke-width="1.5"/>
<line x1="28.40" y1="503.85" x2="28.40" y2="645.40" stroke="#000" stroke-width="1.5"/>
<line x1="22.50" y1="504.60" x2="28.40" y2="504.60" stroke="#000" stroke-width="1.5"/>
<text x="20.90" y="508.00" font-family='"Liberation Serif", serif' font-size="10.2" font-weight="bold" text-anchor="end" fill="#000" stroke="#000" stroke-width="0.12" transform="rotate(0.03 20.90 508.00)">3</text>
<line x1="22.50" y1="551.60" x2="28.40" y2="551.60" stroke="#000" stroke-width="1.5"/>
<text x="20.90" y="555.00" font-family='"Liberation Serif", serif' font-size="10.2" font-weight="bold" text-anchor="end" fill="#000" stroke="#000" stroke-width="0.12" transform="rotate(0.03 20.90 555.00)">2</text>
<line x1="22.50" y1="598.40" x2="28.40" y2="598.40" stroke="#000" stroke-width="1.5"/>
<text x="20.90" y="601.80" font-family='"Liberation Serif", serif' font-size="10.2" font-weight="bold" text-anchor="end" fill="#000" stroke="#000" stroke-width="0.12" transform="rotate(0.03 20.90 601.80)">1</text>
<line x1="22.50" y1="645.40" x2="28.40" y2="645.40" stroke="#000" stroke-width="1.5"/>
<text x="20.90" y="648.80" font-family='"Liberation Serif", serif' font-size="10.2" font-weight="bold" text-anchor="end" fill="#000" stroke="#000" stroke-width="0.12" transform="rotate(0.03 20.90 648.80)">0</text>
<line x1="42.80" y1="645.40" x2="42.80" y2="651.30" stroke="#000" stroke-width="1.5"/>
<text x="42.80" y="662.10" font-family='"Liberation Serif", serif' font-size="10.2" font-weight="bold" text-anchor="middle" fill="#000" stroke="#000" stroke-width="0.12" transform="rotate(0.03 42.80 662.10)">0</text>
<line x1="65.20" y1="645.40" x2="65.20" y2="651.30" stroke="#000" stroke-width="1.5"/>
<text x="65.20" y="662.10" font-family='"Liberation Serif", serif' font-size="10.2" font-weight="bold" text-anchor="middle" fill="#000" stroke="#000" stroke-width="0.12" transform="rotate(0.03 65.20 662.10)">1</text>
<line x1="87.20" y1="645.40" x2="87.20" y2="651.30" stroke="#000" stroke-width="1.5"/>
<text x="87.20" y="662.10" font-family='"Liberation Serif", serif' font-size="10.2" font-weight="bold" text-anchor="middle" fill="#000" stroke="#000" stroke-width="0.12" transform="rotate(0.03 87.20 662.10)">10</text>
<line x1="109.30" y1="645.40" x2="109.30" y2="651.30" stroke="#000" stroke-width="1.5"/>
<text x="109.30" y="662.10" font-family='"Liberation Serif", serif' font-size="10.2" font-weight="bold" text-anchor="middle" fill="#000" stroke="#000" stroke-width="0.12" transform="rotate(0.03 109.30 662.10)">0</text>
<line x1="131.30" y1="645.40" x2="131.30" y2="651.30" stroke="#000" stroke-width="1.5"/>
<text x="131.30" y="662.10" font-family='"Liberation Serif", serif' font-size="10.2" font-weight="bold" text-anchor="middle" fill="#000" stroke="#000" stroke-width="0.12" transform="rotate(0.03 131.30 662.10)">1</text>
<line x1="153.50" y1="645.40" x2="153.50" y2="651.30" stroke="#000" stroke-width="1.5"/>
<text x="153.50" y="662.10" font-family='"Liberation Serif", serif' font-size="10.2" font-weight="bold" text-anchor="middle" fill="#000" stroke="#000" stroke-width="0.12" transform="rotate(0.03 153.50 662.10)">10</text>
<path d="M35.00 663.40V667.60H95.60V663.40" fill="none" stroke="#000" stroke-width="0.75"/>
<text x="64.70" y="677.00" font-family='"Liberation Serif", serif' font-size="7.5" font-weight="bold" text-anchor="middle" fill="#000" stroke="#000" stroke-width="0.12" transform="rotate(0.03 64.70 677.00)">BFF-CM</text>
<path d="M101.60 663.40V667.60H162.40V663.40" fill="none" stroke="#000" stroke-width="0.75"/>
<text x="130.50" y="677.00" font-family='"Liberation Serif", serif' font-size="7.5" font-weight="bold" text-anchor="middle" fill="#000" stroke="#000" stroke-width="0.12" transform="rotate(0.03 130.50 677.00)">MSC-CM</text>
<text x="97.20" y="694.80" font-family='"Liberation Serif", serif' font-size="11.5" font-weight="bold" text-anchor="middle" fill="#000" stroke="#000" stroke-width="0.25" transform="rotate(0.03 97.20 694.80)">LPS (μg/mL)</text>
<text x="98.30" y="487.00" font-family='"Liberation Serif", serif' font-size="13.2" font-weight="bold" text-anchor="middle" fill="#000" stroke="#000" stroke-width="0.25" transform="rotate(0.03 98.30 487.00)">ACC</text>
<text x="0.00" y="0.00" font-family='"Liberation Serif", serif' font-size="11.6" font-weight="bold" text-anchor="middle" fill="#000" stroke="#000" stroke-width="0.25" transform="translate(8.60 575.30) rotate(-89.97)">mRNA fold-change</text>
<path d="M65.2 550.2V507.9H131.4V523" fill="none" stroke="#1c1c1c" stroke-width="1.6"/>
<text x="97.80" y="506.10" font-family='"Liberation Serif", serif' font-size="15" font-weight="bold" text-anchor="middle" fill="#000" stroke="#000" stroke-width="0.1" transform="rotate(0.03 97.80 506.10)">*</text>
<path d="M42.8 557.8V523" fill="none" stroke="#1c1c1c" stroke-width="1.6" stroke-dasharray="4.9 2" stroke-dashoffset="1"/>
<path d="M42.0 523H111.7V528.5" fill="none" stroke="#1c1c1c" stroke-width="1.6" stroke-dasharray="4.9 2"/>
<text x="76.80" y="521.50" font-family='"Liberation Serif", serif' font-size="15" font-weight="bold" text-anchor="middle" fill="#000" stroke="#000" stroke-width="0.1" transform="rotate(0.03 76.80 521.50)">*</text>
<text x="42.60" y="572.30" font-family='"Liberation Sans", sans-serif' font-size="9.0" font-weight="normal" text-anchor="middle" fill="#111" stroke="#111" stroke-width="0.2" transform="rotate(0.03 42.60 572.30)">B</text>
<text x="64.80" y="563.80" font-family='"Liberation Sans", sans-serif' font-size="9.0" font-weight="normal" text-anchor="middle" fill="#111" stroke="#111" stroke-width="0.2" transform="rotate(0.03 64.80 563.80)">A</text>
<text x="86.90" y="560.50" font-family='"Liberation Sans", sans-serif' font-size="9.0" font-weight="normal" text-anchor="middle" fill="#111" stroke="#111" stroke-width="0.2" transform="rotate(0.03 86.90 560.50)">A</text>
</g>
<g>
<line x1="217.80" y1="610.00" x2="217.80" y2="601.40" stroke="#000" stroke-width="0.55"/>
<line x1="214.30" y1="601.40" x2="221.30" y2="601.40" stroke="#000" stroke-width="0.55"/>
<line x1="239.00" y1="610.00" x2="239.00" y2="599.00" stroke="#000" stroke-width="0.55"/>
<line x1="235.50" y1="599.00" x2="242.50" y2="599.00" stroke="#000" stroke-width="0.55"/>
<line x1="259.80" y1="603.00" x2="259.80" y2="582.40" stroke="#000" stroke-width="0.55"/>
<line x1="256.30" y1="582.40" x2="263.30" y2="582.40" stroke="#000" stroke-width="0.55"/>
<line x1="281.00" y1="558.00" x2="281.00" y2="531.60" stroke="#000" stroke-width="0.55"/>
<line x1="277.50" y1="531.60" x2="284.50" y2="531.60" stroke="#000" stroke-width="0.55"/>
<line x1="301.40" y1="576.00" x2="301.40" y2="555.00" stroke="#000" stroke-width="0.55"/>
<line x1="297.90" y1="555.00" x2="304.90" y2="555.00" stroke="#000" stroke-width="0.55"/>
<line x1="322.40" y1="584.00" x2="322.40" y2="565.40" stroke="#000" stroke-width="0.55"/>
<line x1="318.90" y1="565.40" x2="325.90" y2="565.40" stroke="#000" stroke-width="0.55"/>
<rect x="211.83" y="610.02" width="11.95" height="32.77" fill="#ffffff"/>
<path d="M211.83 642.80V610.02H223.78V642.80" fill="none" stroke="#000" stroke-width="2.05" stroke-linejoin="miter"/>
<rect x="233.03" y="610.02" width="11.95" height="32.77" fill="#d2d2d2"/>
<path d="M233.03 642.80V610.02H244.97V642.80" fill="none" stroke="#000" stroke-width="2.05" stroke-linejoin="miter"/>
<rect x="253.83" y="603.02" width="11.95" height="39.77" fill="#616161"/>
<path d="M253.83 642.80V603.02H265.78V642.80" fill="none" stroke="#000" stroke-width="2.05" stroke-linejoin="miter"/>
<rect x="275.02" y="558.02" width="11.95" height="84.77" fill="#e0e0e0"/>
<path d="M275.02 642.80V558.02H286.97V642.80" fill="none" stroke="#000" stroke-width="2.05" stroke-linejoin="miter"/>
<rect x="295.42" y="576.02" width="11.95" height="66.77" fill="#b9b9b9"/>
<path d="M295.42 642.80V576.02H307.37V642.80" fill="none" stroke="#000" stroke-width="2.05" stroke-linejoin="miter"/>
<rect x="316.42" y="584.02" width="11.95" height="58.77" fill="#7d7d7d"/>
<path d="M316.42 642.80V584.02H328.37V642.80" fill="none" stroke="#000" stroke-width="2.05" stroke-linejoin="miter"/>
<line x1="203.25" y1="642.80" x2="338.00" y2="642.80" stroke="#000" stroke-width="1.5"/>
<line x1="204.00" y1="509.25" x2="204.00" y2="642.80" stroke="#000" stroke-width="1.5"/>
<line x1="198.10" y1="510.00" x2="204.00" y2="510.00" stroke="#000" stroke-width="1.5"/>
<text x="196.50" y="513.40" font-family='"Liberation Serif", serif' font-size="9.9" font-weight="bold" text-anchor="end" fill="#000" stroke="#000" stroke-width="0.12" transform="rotate(0.03 196.50 513.40)">4</text>
<line x1="198.10" y1="543.20" x2="204.00" y2="543.20" stroke="#000" stroke-width="1.5"/>
<text x="196.50" y="546.60" font-family='"Liberation Serif", serif' font-size="9.9" font-weight="bold" text-anchor="end" fill="#000" stroke="#000" stroke-width="0.12" transform="rotate(0.03 196.50 546.60)">3</text>
<line x1="198.10" y1="576.40" x2="204.00" y2="576.40" stroke="#000" stroke-width="1.5"/>
<text x="196.50" y="579.80" font-family='"Liberation Serif", serif' font-size="9.9" font-weight="bold" text-anchor="end" fill="#000" stroke="#000" stroke-width="0.12" transform="rotate(0.03 196.50 579.80)">2</text>
<line x1="198.10" y1="609.60" x2="204.00" y2="609.60" stroke="#000" stroke-width="1.5"/>
<text x="196.50" y="613.00" font-family='"Liberation Serif", serif' font-size="9.9" font-weight="bold" text-anchor="end" fill="#000" stroke="#000" stroke-width="0.12" transform="rotate(0.03 196.50 613.00)">1</text>
<line x1="198.10" y1="642.80" x2="204.00" y2="642.80" stroke="#000" stroke-width="1.5"/>
<text x="196.50" y="646.20" font-family='"Liberation Serif", serif' font-size="9.9" font-weight="bold" text-anchor="end" fill="#000" stroke="#000" stroke-width="0.12" transform="rotate(0.03 196.50 646.20)">0</text>
<line x1="217.80" y1="642.80" x2="217.80" y2="648.70" stroke="#000" stroke-width="1.5"/>
<text x="217.80" y="659.00" font-family='"Liberation Serif", serif' font-size="9.9" font-weight="bold" text-anchor="middle" fill="#000" stroke="#000" stroke-width="0.12" transform="rotate(0.03 217.80 659.00)">0</text>
<line x1="239.00" y1="642.80" x2="239.00" y2="648.70" stroke="#000" stroke-width="1.5"/>
<text x="239.00" y="659.00" font-family='"Liberation Serif", serif' font-size="9.9" font-weight="bold" text-anchor="middle" fill="#000" stroke="#000" stroke-width="0.12" transform="rotate(0.03 239.00 659.00)">1</text>
<line x1="259.80" y1="642.80" x2="259.80" y2="648.70" stroke="#000" stroke-width="1.5"/>
<text x="259.80" y="659.00" font-family='"Liberation Serif", serif' font-size="9.9" font-weight="bold" text-anchor="middle" fill="#000" stroke="#000" stroke-width="0.12" transform="rotate(0.03 259.80 659.00)">10</text>
<line x1="281.00" y1="642.80" x2="281.00" y2="648.70" stroke="#000" stroke-width="1.5"/>
<text x="281.00" y="659.00" font-family='"Liberation Serif", serif' font-size="9.9" font-weight="bold" text-anchor="middle" fill="#000" stroke="#000" stroke-width="0.12" transform="rotate(0.03 281.00 659.00)">0</text>
<line x1="301.40" y1="642.80" x2="301.40" y2="648.70" stroke="#000" stroke-width="1.5"/>
<text x="301.40" y="659.00" font-family='"Liberation Serif", serif' font-size="9.9" font-weight="bold" text-anchor="middle" fill="#000" stroke="#000" stroke-width="0.12" transform="rotate(0.03 301.40 659.00)">1</text>
<line x1="322.40" y1="642.80" x2="322.40" y2="648.70" stroke="#000" stroke-width="1.5"/>
<text x="322.40" y="659.00" font-family='"Liberation Serif", serif' font-size="9.9" font-weight="bold" text-anchor="middle" fill="#000" stroke="#000" stroke-width="0.12" transform="rotate(0.03 322.40 659.00)">10</text>
<path d="M210.00 659.40V663.60H268.00V659.40" fill="none" stroke="#000" stroke-width="0.75"/>
<text x="238.50" y="673.00" font-family='"Liberation Serif", serif' font-size="7.15" font-weight="bold" text-anchor="middle" fill="#000" stroke="#000" stroke-width="0.12" transform="rotate(0.03 238.50 673.00)">BFF-CM</text>
<path d="M273.60 659.40V663.60H331.00V659.40" fill="none" stroke="#000" stroke-width="0.75"/>
<text x="301.00" y="673.00" font-family='"Liberation Serif", serif' font-size="7.15" font-weight="bold" text-anchor="middle" fill="#000" stroke="#000" stroke-width="0.12" transform="rotate(0.03 301.00 673.00)">MSC-CM</text>
<text x="269.50" y="691.20" font-family='"Liberation Serif", serif' font-size="10.9" font-weight="bold" text-anchor="middle" fill="#000" stroke="#000" stroke-width="0.25" transform="rotate(0.03 269.50 691.20)">LPS (μg/mL)</text>
<text x="270.80" y="493.10" font-family='"Liberation Serif", serif' font-size="12.7" font-weight="bold" text-anchor="middle" fill="#000" stroke="#000" stroke-width="0.25" transform="rotate(0.03 270.80 493.10)">FASN</text>
<text x="0.00" y="0.00" font-family='"Liberation Serif", serif' font-size="11.2" font-weight="bold" text-anchor="middle" fill="#000" stroke="#000" stroke-width="0.25" transform="translate(186.00 576.50) rotate(-89.97)">mRNA fold-change</text>
<path d="M239 570.6V516H303.6V528.2M223 570.6H251.4M289.6 528.2H317.6" fill="none" stroke="#1c1c1c" stroke-width="1.5"/>
<text x="271.40" y="513.45" font-family='"Liberation Serif", serif' font-size="13.5" font-weight="bold" text-anchor="middle" fill="#000" stroke="#000" stroke-width="0.1" transform="rotate(0.03 271.40 513.45)">*</text>
</g>
<g>
<line x1="386.40" y1="616.00" x2="386.40" y2="607.00" stroke="#000" stroke-width="0.9"/>
<line x1="382.90" y1="607.00" x2="389.90" y2="607.00" stroke="#000" stroke-width="0.9"/>
<line x1="407.40" y1="610.00" x2="407.40" y2="599.00" stroke="#000" stroke-width="0.9"/>
<line x1="403.90" y1="599.00" x2="410.90" y2="599.00" stroke="#000" stroke-width="0.9"/>
<line x1="428.40" y1="604.00" x2="428.40" y2="591.60" stroke="#000" stroke-width="0.9"/>
<line x1="424.90" y1="591.60" x2="431.90" y2="591.60" stroke="#000" stroke-width="0.9"/>
<line x1="449.50" y1="572.00" x2="449.50" y2="553.00" stroke="#000" stroke-width="0.9"/>
<line x1="446.00" y1="553.00" x2="453.00" y2="553.00" stroke="#000" stroke-width="0.9"/>
<line x1="470.60" y1="585.60" x2="470.60" y2="562.40" stroke="#000" stroke-width="0.9"/>
<line x1="467.10" y1="562.40" x2="474.10" y2="562.40" stroke="#000" stroke-width="0.9"/>
<line x1="491.60" y1="565.00" x2="491.60" y2="536.00" stroke="#000" stroke-width="0.9"/>
<line x1="488.10" y1="536.00" x2="495.10" y2="536.00" stroke="#000" stroke-width="0.9"/>
<rect x="380.42" y="616.02" width="11.95" height="26.98" fill="#ffffff"/>
<path d="M380.42 643.00V616.02H392.37V643.00" fill="none" stroke="#000" stroke-width="2.05" stroke-linejoin="miter"/>
<rect x="401.42" y="610.02" width="11.95" height="32.98" fill="#e0e0e0"/>
<path d="M401.42 643.00V610.02H413.37V643.00" fill="none" stroke="#000" stroke-width="2.05" stroke-linejoin="miter"/>
<rect x="422.42" y="604.02" width="11.95" height="38.98" fill="#6e6e6e"/>
<path d="M422.42 643.00V604.02H434.37V643.00" fill="none" stroke="#000" stroke-width="2.05" stroke-linejoin="miter"/>
<rect x="443.52" y="572.02" width="11.95" height="70.98" fill="#e4e4e4"/>
<path d="M443.52 643.00V572.02H455.47V643.00" fill="none" stroke="#000" stroke-width="2.05" stroke-linejoin="miter"/>
<rect x="464.62" y="585.62" width="11.95" height="57.38" fill="#c8c8c8"/>
<path d="M464.62 643.00V585.62H476.57V643.00" fill="none" stroke="#000" stroke-width="2.05" stroke-linejoin="miter"/>
<rect x="485.62" y="565.02" width="11.95" height="77.98" fill="#878787"/>
<path d="M485.62 643.00V565.02H497.57V643.00" fill="none" stroke="#000" stroke-width="2.05" stroke-linejoin="miter"/>
<line x1="371.65" y1="643.00" x2="505.40" y2="643.00" stroke="#000" stroke-width="1.5"/>
<line x1="372.40" y1="508.65" x2="372.40" y2="643.00" stroke="#000" stroke-width="1.5"/>
<line x1="366.50" y1="509.40" x2="372.40" y2="509.40" stroke="#000" stroke-width="1.5"/>
<text x="364.90" y="512.80" font-family='"Liberation Serif", serif' font-size="9.8" font-weight="bold" text-anchor="end" fill="#000" stroke="#000" stroke-width="0.12" transform="rotate(0.03 364.90 512.80)">5</text>
<line x1="366.50" y1="536.00" x2="372.40" y2="536.00" stroke="#000" stroke-width="1.5"/>
<text x="364.90" y="539.40" font-family='"Liberation Serif", serif' font-size="9.8" font-weight="bold" text-anchor="end" fill="#000" stroke="#000" stroke-width="0.12" transform="rotate(0.03 364.90 539.40)">4</text>
<line x1="366.50" y1="562.60" x2="372.40" y2="562.60" stroke="#000" stroke-width="1.5"/>
<text x="364.90" y="566.00" font-family='"Liberation Serif", serif' font-size="9.8" font-weight="bold" text-anchor="end" fill="#000" stroke="#000" stroke-width="0.12" transform="rotate(0.03 364.90 566.00)">3</text>
<line x1="366.50" y1="589.50" x2="372.40" y2="589.50" stroke="#000" stroke-width="1.5"/>
<text x="364.90" y="592.90" font-family='"Liberation Serif", serif' font-size="9.8" font-weight="bold" text-anchor="end" fill="#000" stroke="#000" stroke-width="0.12" transform="rotate(0.03 364.90 592.90)">2</text>
<line x1="366.50" y1="616.40" x2="372.40" y2="616.40" stroke="#000" stroke-width="1.5"/>
<text x="364.90" y="619.80" font-family='"Liberation Serif", serif' font-size="9.8" font-weight="bold" text-anchor="end" fill="#000" stroke="#000" stroke-width="0.12" transform="rotate(0.03 364.90 619.80)">1</text>
<line x1="366.50" y1="643.00" x2="372.40" y2="643.00" stroke="#000" stroke-width="1.5"/>
<text x="364.90" y="646.40" font-family='"Liberation Serif", serif' font-size="9.8" font-weight="bold" text-anchor="end" fill="#000" stroke="#000" stroke-width="0.12" transform="rotate(0.03 364.90 646.40)">0</text>
<line x1="386.40" y1="643.00" x2="386.40" y2="648.90" stroke="#000" stroke-width="1.5"/>
<text x="386.40" y="659.40" font-family='"Liberation Serif", serif' font-size="9.8" font-weight="bold" text-anchor="middle" fill="#000" stroke="#000" stroke-width="0.12" transform="rotate(0.03 386.40 659.40)">0</text>
<line x1="407.40" y1="643.00" x2="407.40" y2="648.90" stroke="#000" stroke-width="1.5"/>
<text x="407.40" y="659.40" font-family='"Liberation Serif", serif' font-size="9.8" font-weight="bold" text-anchor="middle" fill="#000" stroke="#000" stroke-width="0.12" transform="rotate(0.03 407.40 659.40)">1</text>
<line x1="428.40" y1="643.00" x2="428.40" y2="648.90" stroke="#000" stroke-width="1.5"/>
<text x="428.40" y="659.40" font-family='"Liberation Serif", serif' font-size="9.8" font-weight="bold" text-anchor="middle" fill="#000" stroke="#000" stroke-width="0.12" transform="rotate(0.03 428.40 659.40)">10</text>
<line x1="449.50" y1="643.00" x2="449.50" y2="648.90" stroke="#000" stroke-width="1.5"/>
<text x="449.50" y="659.40" font-family='"Liberation Serif", serif' font-size="9.8" font-weight="bold" text-anchor="middle" fill="#000" stroke="#000" stroke-width="0.12" transform="rotate(0.03 449.50 659.40)">0</text>
<line x1="470.60" y1="643.00" x2="470.60" y2="648.90" stroke="#000" stroke-width="1.5"/>
<text x="470.60" y="659.40" font-family='"Liberation Serif", serif' font-size="9.8" font-weight="bold" text-anchor="middle" fill="#000" stroke="#000" stroke-width="0.12" transform="rotate(0.03 470.60 659.40)">1</text>
<line x1="491.60" y1="643.00" x2="491.60" y2="648.90" stroke="#000" stroke-width="1.5"/>
<text x="491.60" y="659.40" font-family='"Liberation Serif", serif' font-size="9.8" font-weight="bold" text-anchor="middle" fill="#000" stroke="#000" stroke-width="0.12" transform="rotate(0.03 491.60 659.40)">10</text>
<path d="M378.60 662.60V666.60H436.60V662.60" fill="none" stroke="#000" stroke-width="0.75"/>
<text x="407.00" y="676.00" font-family='"Liberation Serif", serif' font-size="7.15" font-weight="bold" text-anchor="middle" fill="#000" stroke="#000" stroke-width="0.12" transform="rotate(0.03 407.00 676.00)">BFF-CM</text>
<path d="M442.40 662.60V666.60H500.00V662.60" fill="none" stroke="#000" stroke-width="0.75"/>
<text x="470.00" y="676.00" font-family='"Liberation Serif", serif' font-size="7.15" font-weight="bold" text-anchor="middle" fill="#000" stroke="#000" stroke-width="0.12" transform="rotate(0.03 470.00 676.00)">MSC-CM</text>
<text x="437.20" y="694.60" font-family='"Liberation Serif", serif' font-size="10.7" font-weight="bold" text-anchor="middle" fill="#000" stroke="#000" stroke-width="0.25" transform="rotate(0.03 437.20 694.60)">LPS (μg/mL)</text>
<text x="439.00" y="491.70" font-family='"Liberation Serif", serif' font-size="12.7" font-weight="bold" text-anchor="middle" fill="#000" stroke="#000" stroke-width="0.25" transform="rotate(0.03 439.00 491.70)">SCD1</text>
<text x="0.00" y="0.00" font-family='"Liberation Serif", serif' font-size="10.9" font-weight="bold" text-anchor="middle" fill="#000" stroke="#000" stroke-width="0.25" transform="translate(353.20 576.60) rotate(-89.97)">mRNA fold-change</text>
</g>
<g>
<line x1="560.00" y1="573.40" x2="560.00" y2="560.40" stroke="#000" stroke-width="0.55"/>
<line x1="556.50" y1="560.40" x2="563.50" y2="560.40" stroke="#000" stroke-width="0.55"/>
<line x1="581.70" y1="582.40" x2="581.70" y2="565.00" stroke="#000" stroke-width="0.55"/>
<line x1="578.20" y1="565.00" x2="585.20" y2="565.00" stroke="#000" stroke-width="0.55"/>
<line x1="603.70" y1="570.60" x2="603.70" y2="551.40" stroke="#000" stroke-width="0.55"/>
<line x1="600.20" y1="551.40" x2="607.20" y2="551.40" stroke="#000" stroke-width="0.55"/>
<line x1="625.70" y1="546.60" x2="625.70" y2="530.00" stroke="#000" stroke-width="0.55"/>
<line x1="622.20" y1="530.00" x2="629.20" y2="530.00" stroke="#000" stroke-width="0.55"/>
<line x1="647.70" y1="569.40" x2="647.70" y2="552.00" stroke="#000" stroke-width="0.55"/>
<line x1="644.20" y1="552.00" x2="651.20" y2="552.00" stroke="#000" stroke-width="0.55"/>
<line x1="669.30" y1="569.40" x2="669.30" y2="540.00" stroke="#000" stroke-width="0.55"/>
<line x1="665.80" y1="540.00" x2="672.80" y2="540.00" stroke="#000" stroke-width="0.55"/>
<rect x="553.73" y="573.42" width="12.55" height="69.58" fill="#ffffff"/>
<path d="M553.73 643.00V573.42H566.27V643.00" fill="none" stroke="#000" stroke-width="2.05" stroke-linejoin="miter"/>
<rect x="575.43" y="582.42" width="12.55" height="60.58" fill="#d2d2d2"/>
<path d="M575.43 643.00V582.42H587.98V643.00" fill="none" stroke="#000" stroke-width="2.05" stroke-linejoin="miter"/>
<rect x="597.43" y="570.62" width="12.55" height="72.38" fill="#616161"/>
<path d="M597.43 643.00V570.62H609.98V643.00" fill="none" stroke="#000" stroke-width="2.05" stroke-linejoin="miter"/>
<rect x="619.43" y="546.62" width="12.55" height="96.38" fill="#e0e0e0"/>
<path d="M619.43 643.00V546.62H631.98V643.00" fill="none" stroke="#000" stroke-width="2.05" stroke-linejoin="miter"/>
<rect x="641.43" y="569.42" width="12.55" height="73.58" fill="#b9b9b9"/>
<path d="M641.43 643.00V569.42H653.98V643.00" fill="none" stroke="#000" stroke-width="2.05" stroke-linejoin="miter"/>
<rect x="663.02" y="569.42" width="12.55" height="73.58" fill="#7d7d7d"/>
<path d="M663.02 643.00V569.42H675.57V643.00" fill="none" stroke="#000" stroke-width="2.05" stroke-linejoin="miter"/>
<line x1="544.65" y1="643.00" x2="686.00" y2="643.00" stroke="#000" stroke-width="1.5"/>
<line x1="545.40" y1="503.25" x2="545.40" y2="643.00" stroke="#000" stroke-width="1.5"/>
<line x1="539.50" y1="504.00" x2="545.40" y2="504.00" stroke="#000" stroke-width="1.5"/>
<text x="537.90" y="507.40" font-family='"Liberation Serif", serif' font-size="10.3" font-weight="bold" text-anchor="end" fill="#000" stroke="#000" stroke-width="0.12" transform="rotate(0.03 537.90 507.40)">2.0</text>
<line x1="539.50" y1="538.70" x2="545.40" y2="538.70" stroke="#000" stroke-width="1.5"/>
<text x="537.90" y="542.10" font-family='"Liberation Serif", serif' font-size="10.3" font-weight="bold" text-anchor="end" fill="#000" stroke="#000" stroke-width="0.12" transform="rotate(0.03 537.90 542.10)">1.5</text>
<line x1="539.50" y1="573.40" x2="545.40" y2="573.40" stroke="#000" stroke-width="1.5"/>
<text x="537.90" y="576.80" font-family='"Liberation Serif", serif' font-size="10.3" font-weight="bold" text-anchor="end" fill="#000" stroke="#000" stroke-width="0.12" transform="rotate(0.03 537.90 576.80)">1.0</text>
<line x1="539.50" y1="608.20" x2="545.40" y2="608.20" stroke="#000" stroke-width="1.5"/>
<text x="537.90" y="611.60" font-family='"Liberation Serif", serif' font-size="10.3" font-weight="bold" text-anchor="end" fill="#000" stroke="#000" stroke-width="0.12" transform="rotate(0.03 537.90 611.60)">0.5</text>
<line x1="539.50" y1="643.00" x2="545.40" y2="643.00" stroke="#000" stroke-width="1.5"/>
<text x="537.90" y="646.40" font-family='"Liberation Serif", serif' font-size="10.3" font-weight="bold" text-anchor="end" fill="#000" stroke="#000" stroke-width="0.12" transform="rotate(0.03 537.90 646.40)">0.0</text>
<line x1="560.00" y1="643.00" x2="560.00" y2="648.90" stroke="#000" stroke-width="1.5"/>
<text x="560.00" y="659.20" font-family='"Liberation Serif", serif' font-size="10.3" font-weight="bold" text-anchor="middle" fill="#000" stroke="#000" stroke-width="0.12" transform="rotate(0.03 560.00 659.20)">0</text>
<line x1="581.70" y1="643.00" x2="581.70" y2="648.90" stroke="#000" stroke-width="1.5"/>
<text x="581.70" y="659.20" font-family='"Liberation Serif", serif' font-size="10.3" font-weight="bold" text-anchor="middle" fill="#000" stroke="#000" stroke-width="0.12" transform="rotate(0.03 581.70 659.20)">1</text>
<line x1="603.70" y1="643.00" x2="603.70" y2="648.90" stroke="#000" stroke-width="1.5"/>
<text x="603.70" y="659.20" font-family='"Liberation Serif", serif' font-size="10.3" font-weight="bold" text-anchor="middle" fill="#000" stroke="#000" stroke-width="0.12" transform="rotate(0.03 603.70 659.20)">10</text>
<line x1="625.70" y1="643.00" x2="625.70" y2="648.90" stroke="#000" stroke-width="1.5"/>
<text x="625.70" y="659.20" font-family='"Liberation Serif", serif' font-size="10.3" font-weight="bold" text-anchor="middle" fill="#000" stroke="#000" stroke-width="0.12" transform="rotate(0.03 625.70 659.20)">0</text>
<line x1="647.70" y1="643.00" x2="647.70" y2="648.90" stroke="#000" stroke-width="1.5"/>
<text x="647.70" y="659.20" font-family='"Liberation Serif", serif' font-size="10.3" font-weight="bold" text-anchor="middle" fill="#000" stroke="#000" stroke-width="0.12" transform="rotate(0.03 647.70 659.20)">1</text>
<line x1="669.30" y1="643.00" x2="669.30" y2="648.90" stroke="#000" stroke-width="1.5"/>
<text x="669.30" y="659.20" font-family='"Liberation Serif", serif' font-size="10.3" font-weight="bold" text-anchor="middle" fill="#000" stroke="#000" stroke-width="0.12" transform="rotate(0.03 669.30 659.20)">10</text>
<path d="M552.00 664.00V668.40H612.60V664.00" fill="none" stroke="#000" stroke-width="0.75"/>
<text x="581.50" y="678.00" font-family='"Liberation Serif", serif' font-size="7.6" font-weight="bold" text-anchor="middle" fill="#000" stroke="#000" stroke-width="0.12" transform="rotate(0.03 581.50 678.00)">BFF-CM</text>
<path d="M618.00 664.00V668.40H678.60V664.00" fill="none" stroke="#000" stroke-width="0.75"/>
<text x="646.80" y="678.00" font-family='"Liberation Serif", serif' font-size="7.6" font-weight="bold" text-anchor="middle" fill="#000" stroke="#000" stroke-width="0.12" transform="rotate(0.03 646.80 678.00)">MSC-CM</text>
<text x="613.80" y="697.40" font-family='"Liberation Serif", serif' font-size="11.4" font-weight="bold" text-anchor="middle" fill="#000" stroke="#000" stroke-width="0.25" transform="rotate(0.03 613.80 697.40)">LPS (μg/mL)</text>
<text x="614.70" y="486.40" font-family='"Liberation Serif", serif' font-size="12.9" font-weight="bold" text-anchor="middle" fill="#000" stroke="#000" stroke-width="0.25" transform="rotate(0.03 614.70 486.40)">DGAT</text>
</g>
<text x="33.60" y="16.15" font-family='"Liberation Serif", serif' font-size="13.9" font-weight="normal" text-anchor="start" fill="#000" stroke="#000" stroke-width="0.4" transform="rotate(0.03 33.60 16.15)">A</text>
<text x="153.90" y="253.40" font-family='"Liberation Serif", serif' font-size="12.8" font-weight="normal" text-anchor="start" fill="#000" stroke="#000" stroke-width="0.4" transform="rotate(0.03 153.90 253.40)">B</text>
<text x="14.40" y="483.30" font-family='"Liberation Serif", serif' font-size="14.0" font-weight="normal" text-anchor="start" fill="#000" stroke="#000" stroke-width="0.4" transform="rotate(0.03 14.40 483.30)">C</text>
</svg>
</body>
</html>
